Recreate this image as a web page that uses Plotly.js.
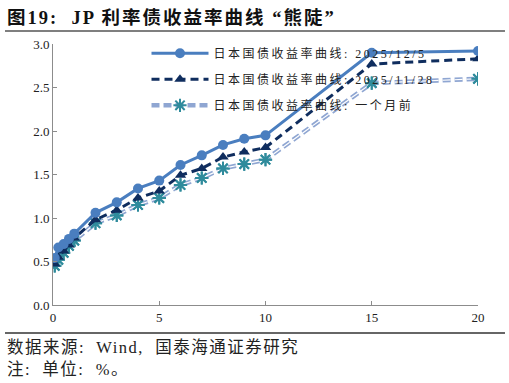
<!DOCTYPE html>
<html><head><meta charset="utf-8">
<script src="https://cdn.plot.ly/plotly-3.0.1.min.js"></script>
<style>body{margin:0;padding:0;background:#fff}#c{width:509px;height:383px}
.legendtext{letter-spacing:2.5px}</style>
</head><body><div id="c"></div>
<script>
const tenors = [0.083, 0.25, 0.5, 0.75, 1, 2, 3, 4, 5, 6, 7, 8, 9, 10, 15, 20];
const curveDec5 = [0.54, 0.66, 0.70, 0.76, 0.82, 1.06, 1.18, 1.34, 1.43, 1.61, 1.72, 1.84, 1.91, 1.95, 2.90, 2.92];
const curveNov28 = [0.47, 0.55, 0.62, 0.69, 0.77, 0.98, 1.09, 1.23, 1.31, 1.49, 1.57, 1.70, 1.76, 1.81, 2.77, 2.83];
const curveMonthAgo = [0.45, 0.52, 0.60, 0.68, 0.74, 0.94, 1.03, 1.15, 1.23, 1.38, 1.46, 1.57, 1.62, 1.67, 2.55, 2.60];
const names = ['日本国债收益率曲线: 2025/12/5', '日本国债收益率曲线: 2025/11/28', '日本国债收益率曲线: 一个月前'];
const xTicks = [0, 5, 10, 15, 20];
const yTicks = [0, 0.5, 1, 1.5, 2, 2.5, 3];

const serif = '"Liberation Serif", "Noto Sans CJK SC", serif';
const starMarker = {symbol: 'asterisk-open', size: 11, color: '#2f8b9c', line: {color: '#2f8b9c', width: 2}};
const traces = [
  {x: tenors, y: curveMonthAgo, mode: 'lines+markers', name: names[2], legendgroup: 'c', legendrank: 3,
   line: {color: '#8fa6d2', width: 4.5, dash: '8px,4px'}, marker: starMarker},
  {x: tenors, y: curveMonthAgo, mode: 'lines', showlegend: false, legendgroup: 'c',
   line: {color: '#ffffff', width: 1.2, dash: '8px,4px'}},
  {x: tenors, y: curveMonthAgo, mode: 'markers', showlegend: false, legendgroup: 'c', marker: starMarker},
  {x: tenors, y: curveNov28, mode: 'lines+markers', name: names[1], legendgroup: 'b', legendrank: 2,
   line: {color: '#0f2d5e', width: 3, dash: '8px,5px'},
   marker: {symbol: 'triangle-up', size: 10, color: '#0f2d5e'}},
  {x: tenors, y: curveDec5, mode: 'lines+markers', name: names[0], legendgroup: 'a', legendrank: 1,
   line: {color: '#4a7ebf', width: 3},
   marker: {symbol: 'circle', size: 10, color: '#4a7ebf'}}
];

const layout = {
  width: 509, height: 383,
  margin: {l: 53, r: 31, t: 44, b: 78},
  paper_bgcolor: '#fff', plot_bgcolor: '#fff',
  showlegend: true,
  legend: {x: 0.22, y: 1.02, xanchor: 'left', yanchor: 'top', traceorder: 'grouped',
    bgcolor: 'rgba(0,0,0,0)', font: {family: serif, size: 12, color: '#222'}, itemwidth: 57, tracegroupgap: 7},
  xaxis: {range: [0, 20], tickvals: xTicks, showline: true, linecolor: '#8c8c8c', linewidth: 1,
    ticks: 'inside', ticklen: 4, tickcolor: '#8c8c8c', showgrid: false, zeroline: false,
    tickfont: {family: serif, size: 13, color: '#222'}},
  yaxis: {range: [0, 3], tickvals: yTicks, tickformat: '.1f', showline: true, linecolor: '#8c8c8c', linewidth: 1,
    ticks: 'inside', ticklen: 4, tickcolor: '#8c8c8c', showgrid: false, zeroline: false,
    tickfont: {family: serif, size: 13, color: '#222'}},
  shapes: [
    {type: 'line', xref: 'paper', yref: 'paper', x0: -0.113, x1: 1.0635, y0: 1.0498, y1: 1.0498, line: {color: '#555', width: 1.5}},
    {type: 'line', xref: 'paper', yref: 'paper', x0: -0.113, x1: 1.0635, y0: -0.1073, y1: -0.1073, line: {color: '#333', width: 1.5}}
  ],
  annotations: [
    {xref: 'paper', yref: 'paper', x: -0.113, y: 1.103, xanchor: 'left', yanchor: 'middle', showarrow: false,
     text: '<b><span style="letter-spacing:2px">图19:  JP 利率债收益率曲线 “熊陡”</span></b>', font: {family: serif, size: 18.5, color: '#111'}},
    {xref: 'paper', yref: 'paper', x: -0.113, y: -0.161, xanchor: 'left', yanchor: 'middle', showarrow: false,
     text: '<span style="letter-spacing:1.5px">数据来源:  Wind,  国泰海通证券研究</span>', font: {family: serif, size: 16.5, color: '#222'}},
    {xref: 'paper', yref: 'paper', x: -0.113, y: -0.247, xanchor: 'left', yanchor: 'middle', showarrow: false,
     text: '<span style="letter-spacing:1.5px">注:  单位:  %。</span>', font: {family: serif, size: 16.5, color: '#222'}}
  ]
};
Plotly.newPlot('c', traces, layout, {displayModeBar: false, staticPlot: true});
</script></body></html>
